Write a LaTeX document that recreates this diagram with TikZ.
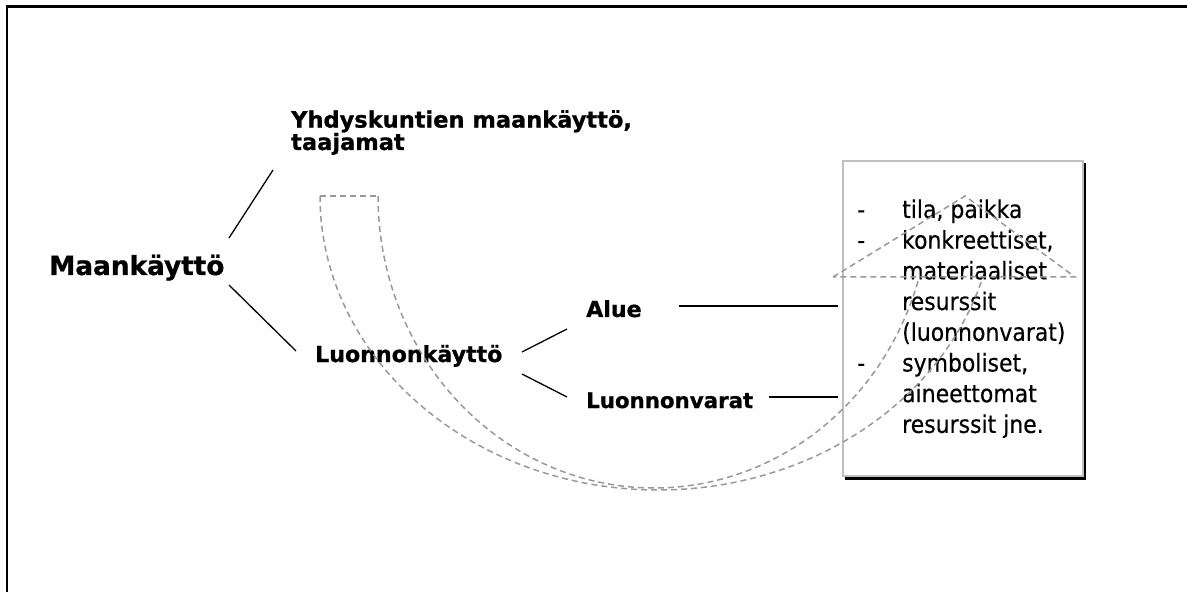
\documentclass[tikz,border=0pt]{standalone}
\usepackage{fontspec}
\setmainfont{DejaVu Sans}
\newfontfamily\lblfont{DejaVu Sans}[BoldFeatures={FakeBold=0.9}]
\newfontfamily\boxfont{DejaVu Sans Condensed}[FakeBold=0.3]
\begin{document}
\begin{tikzpicture}[x=1bp,y=-1bp,
  lbl/.style={inner sep=0pt,anchor=base west,font=\lblfont\bfseries\fontsize{22.2}{22}\selectfont},
  conn/.style={line width=1.3bp,black},
  dashshape/.style={draw=black!40,line width=1.5bp,dash pattern=on 6bp off 4bp},
  boxline/.style={inner sep=0pt,anchor=base west,font=\boxfont\fontsize{24.5}{24.5}\selectfont}]
\useasboundingbox (0,0) rectangle (1187,592);
% frame
\draw[line width=2.2bp] (7,592) -- (7,6.5) -- (1187,6.5);
% labels
\node[lbl,font=\lblfont\bfseries\fontsize{26.4}{26.4}\selectfont] (mk) at (49,275) {Maankäyttö};
\node[lbl,align=left,font=\lblfont\bfseries\fontsize{22.6}{22.5}\selectfont] (yh) at (291,150) {Yhdyskuntien maankäyttö,\\taajamat};
\node[lbl] (lk) at (315,362) {Luonnonkäyttö};
\node[lbl] (al) at (586,317) {Alue};
\node[lbl,font=\lblfont\bfseries\fontsize{21.4}{22}\selectfont] (lv) at (586,408) {Luonnonvarat};
% box with shadow
\draw[line width=3bp] (1084.5,163) -- (1084.5,478.5) -- (845,478.5);
\node[draw=black!25,fill=white,line width=2bp,minimum width=240bp,minimum height=315bp,inner sep=0pt,anchor=north west] (box) at (842,160) {};
% connector end points
\coordinate (m1) at (229,238); \coordinate (y1) at (273,170);
\coordinate (m2) at (229,285); \coordinate (l1) at (296,351);
\coordinate (l2) at (522,352); \coordinate (a1) at (567,329);
\coordinate (l3) at (522,374); \coordinate (v1) at (567,397);
\coordinate (a2) at (679,306); \coordinate (b1) at (838,306);
\coordinate (v2) at (769,397); \coordinate (b2) at (838,397);
\draw[conn] (m1) -- (y1);
\draw[conn] (m2) -- (l1);
\draw[conn] (l2) -- (a1);
\draw[conn] (l3) -- (v1);
\draw[conn] (a2) -- (b1);
\draw[conn] (v2) -- (b2);
% box text
\foreach \t/\d [count=\i from 0] in {tila{,} paikka/-, konkreettiset{,}/-, materiaaliset/, resurssit/, (luonnonvarat)/, symboliset{,}/-, aineettomat/, resurssit jne./}{
  \node[boxline] (d\i) at (857,218+30.7*\i) {\d};
  \node[boxline] (t\i) at (902,218+30.7*\i) {\t};
}
% curved up arrow (dashed)
\draw[dashshape] plot[domain=180:16.1,samples=140,smooth] ({658+338*cos(\x)},{196+294*sin(\x)});
\draw[dashshape] plot[domain=180:16.1,samples=140,smooth] ({654+276*cos(\x)},{196+292*sin(\x)});
\draw[dashshape] (320,196) -- (378,196);
\draw[dashshape] (833,277) -- (965,196) -- (1075,277) -- cycle;
\end{tikzpicture}
\end{document}
